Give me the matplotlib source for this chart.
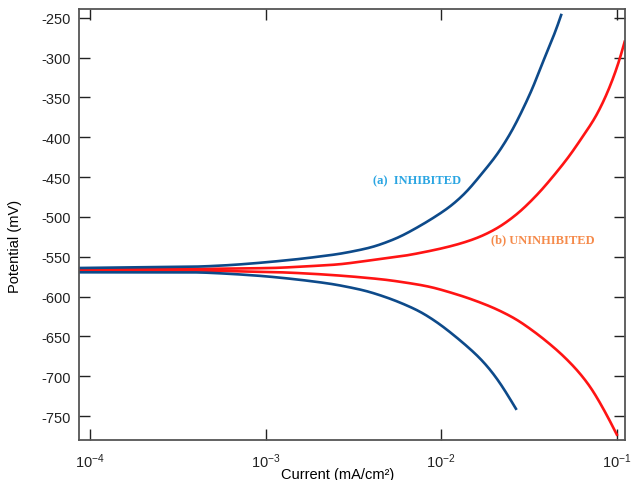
import numpy as np
import matplotlib
matplotlib.use("Agg")
import matplotlib.pyplot as plt

plt.rcParams['font.family'] = ['Liberation Sans', 'DejaVu Sans']
plt.rcParams['mathtext.fontset'] = 'custom'
plt.rcParams['mathtext.rm'] = 'Liberation Sans'
plt.rcParams['mathtext.it'] = 'Liberation Sans'
plt.rcParams['axes.unicode_minus'] = False

# (a) INHIBITED - anodic branch (log10 current, potential mV)
inh_anodic_logi = [-4.063, -3.374, -3.184, -2.994, -2.805, -2.577, -2.388, -2.236, -2.084,
                   -1.951, -1.856, -1.762, -1.685, -1.628, -1.591, -1.534, -1.477,
                   -1.429, -1.382, -1.344, -1.315]
inh_anodic_e = [-564.1, -562.4, -560.3, -556.9, -552.8, -546.5, -538.1, -525.5, -506.7,
                -487.8, -469.0, -443.8, -423.0, -403.3, -389.5, -364.3, -337.1,
                -309.3, -284.8, -263.8, -245.0]
# (a) INHIBITED - cathodic branch
inh_cath_logi = [-4.063, -3.374, -3.184, -2.994, -2.805, -2.615, -2.426, -2.274, -2.122,
                 -2.008, -1.894, -1.790, -1.723, -1.667, -1.619, -1.571]
inh_cath_e = [-569.5, -569.5, -571.6, -574.5, -578.8, -584.2, -592.6, -603.7, -618.1,
              -634.4, -654.5, -674.6, -691.0, -707.7, -724.6, -742.2]
# (b) UNINHIBITED - anodic branch
uni_anodic_logi = [-4.063, -3.374, -2.937, -2.577, -2.388, -2.198, -2.008, -1.894, -1.780,
                   -1.667, -1.553, -1.439, -1.344, -1.268, -1.200, -1.126, -1.069,
                   -1.022, -0.983, -0.954]
uni_anodic_e = [-565.3, -565.3, -564.1, -559.7, -554.0, -548.6, -540.2, -533.9, -525.5,
                -512.9, -494.1, -469.0, -444.1, -423.0, -400.8, -376.9, -351.8,
                -326.6, -301.5, -278.5]
# (b) UNINHIBITED - cathodic branch
uni_cath_logi = [-4.063, -3.374, -2.900, -2.710, -2.520, -2.311, -2.122, -2.046, -1.856,
                 -1.705, -1.571, -1.439, -1.325, -1.230, -1.154, -1.097, -1.040, -0.997]
uni_cath_e = [-567.2, -567.2, -569.5, -571.6, -574.5, -578.8, -585.1, -588.3, -600.9,
              -613.5, -628.2, -649.1, -670.0, -691.0, -711.9, -732.8, -755.9, -774.8]

yticks = [-250, -300, -350, -400, -450, -500, -550, -600, -650, -700, -750]
xticks = [1e-4, 1e-3, 1e-2, 1e-1]

# approximate on-screen scale, used only to smooth the traced polylines evenly
SX = 175.7        # pixels per decade
SY = 1 / 1.2563   # pixels per mV


def smooth(lx, e, sigma=9.0):
    px = np.asarray(lx, float) * SX
    py = np.asarray(e, float) * SY
    seg = np.hypot(np.diff(px), np.diff(py))
    s = np.concatenate([[0], np.cumsum(seg)])
    su = np.arange(0, s[-1], 0.5)
    su = np.append(su, s[-1])
    xu = np.interp(su, s, px)
    yu = np.interp(su, s, py)
    n = int(4 * sigma / 0.5)
    # odd reflection at both ends to keep endpoints in place
    xpad = np.concatenate([2 * xu[0] - xu[n:0:-1], xu, 2 * xu[-1] - xu[-2:-n - 2:-1]])
    ypad = np.concatenate([2 * yu[0] - yu[n:0:-1], yu, 2 * yu[-1] - yu[-2:-n - 2:-1]])
    k = np.arange(-n, n + 1) * 0.5
    w = np.exp(-0.5 * (k / sigma) ** 2); w /= w.sum()
    xs = np.convolve(xpad, w, mode='valid')
    ys = np.convolve(ypad, w, mode='valid')
    return 10 ** (xs / SX), ys / SY


fig = plt.figure(figsize=(6.39, 4.81), dpi=100)
ax = fig.add_axes([79/639, 1-441/481, (625-79)/639, (441-10)/481])

red = '#ff1414'
blue = '#0d4a8a'
for lx, e in [(uni_anodic_logi, uni_anodic_e), (uni_cath_logi, uni_cath_e)]:
    x, y = smooth(lx, e)
    ax.plot(x, y, color=red, lw=1.9, solid_capstyle='butt')
for lx, e in [(inh_anodic_logi, inh_anodic_e), (inh_cath_logi, inh_cath_e)]:
    x, y = smooth(lx, e)
    ax.plot(x, y, color=blue, lw=1.9, solid_capstyle='butt')

ax.set_xscale('log')
ax.set_xlim(10**-4.0626, 10**-0.954)
ax.set_ylim(-780, -239)
ax.set_xticks(xticks)
ax.set_yticks(yticks)
ax.xaxis.set_minor_locator(matplotlib.ticker.NullLocator())
ax.tick_params(axis='both', which='major', direction='in', length=8, width=1,
               colors='#222222', labelsize=10.5, top=True, right=True)
ax.tick_params(axis='x', pad=8)
ax.tick_params(axis='y', pad=6)
for s in ax.spines.values():
    s.set_color('#555555')
    s.set_linewidth(1.3)

ax.set_xlabel('Current (mA/cm²)', fontsize=10.5)
ax.set_ylabel('Potential (mV)', fontsize=10.5)
ax.xaxis.set_label_coords(0.473, -0.062)
ax.yaxis.set_label_coords(-0.105, 0.452)

ax.text(10**(-4 + (373-90)/175.7), -250 - (181-19)*1.2563, '(a)  INHIBITED',
        color='#2aa5e2', fontsize=9, fontweight='bold', family='Liberation Serif',
        va='center', ha='left')
ax.text(10**(-4 + (491-90)/175.7), -250 - (240-19)*1.2563, '(b) UNINHIBITED',
        color='#f58a4a', fontsize=9, fontweight='bold', family='Liberation Serif',
        va='center', ha='left')

fig.savefig('out.png', dpi=100)
